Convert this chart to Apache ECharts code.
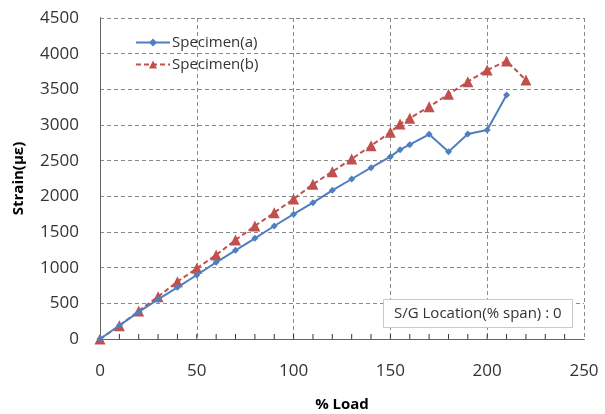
<!DOCTYPE html>
<html>
<head>
<meta charset="utf-8">
<script src="https://cdn.jsdelivr.net/npm/echarts@6/dist/echarts.min.js"></script>
<style>
  html, body { margin: 0; padding: 0; background: #fff; }
  #chart { width: 605px; height: 414px; }
</style>
</head>
<body>
<div id="chart"></div>
<script>
// % load steps and measured strain
const loadA = [0, 10, 20, 30, 40, 50, 60, 70, 80, 90, 100, 110, 120, 130, 140, 150, 155, 160, 170, 180, 190, 200, 210];
const strainA = [0, 190, 380, 555, 725, 897, 1075, 1243, 1411, 1584, 1750, 1911, 2084, 2243, 2402, 2556, 2654, 2724, 2869, 2626, 2874, 2930, 3421];
const loadB = [0, 10, 20, 30, 40, 50, 60, 70, 80, 90, 100, 110, 120, 130, 140, 150, 155, 160, 170, 180, 190, 200, 210, 220];
const strainB = [0, 185, 393, 593, 804, 991, 1178, 1388, 1584, 1771, 1963, 2170, 2346, 2524, 2710, 2897, 3014, 3094, 3257, 3430, 3608, 3771, 3897, 3631];
const xTicks = [0, 50, 100, 150, 200, 250];
const xMinorTicks = [10, 20, 30, 40, 50, 60, 70, 80, 90, 100, 110, 120, 130, 140, 150, 160, 170, 180, 190, 200, 210, 220, 230, 240];
const yTicks = [0, 500, 1000, 1500, 2000, 2500, 3000, 3500, 4000, 4500];

const zip = (xs, ys) => xs.map((x, i) => [x, ys[i]]);

const chart = echarts.init(document.getElementById('chart'));

const gridDash = { type: [4, 3], color: '#8a8a8a', width: 1 };
const xMin = xTicks[0], xMax = xTicks[xTicks.length - 1];
const yMin = yTicks[0], yMax = yTicks[yTicks.length - 1];

const option = {
  animation: false,
  textStyle: { fontFamily: 'Open Sans' },
  title: {
    text: 'S/G Location(% span) : 0',
    left: 383,
    top: 299,
    padding: [7, 11, 7, 11],
    borderColor: '#c8c8c8',
    borderWidth: 1,
    backgroundColor: '#fff',
    textStyle: { fontSize: 15, fontWeight: 'normal', color: '#333', fontFamily: 'Open Sans' }
  },
  legend: {
    left: 130,
    top: 30,
    orient: 'vertical',
    itemWidth: 34,
    itemHeight: 10,
    itemGap: 7,
    textStyle: { fontSize: 15, color: '#333', fontFamily: 'Open Sans', padding: [0, 0, 0, -3] },
    data: ['Specimen(a)', 'Specimen(b)']
  },
  grid: { left: 100, right: 21, top: 18, bottom: 75, outerBoundsMode: 'none' },
  xAxis: [
    {
      type: 'value',
      position: 'bottom',
      min: xMin,
      max: xMax,
      interval: 50,
      name: '% Load',
      nameLocation: 'middle',
      nameGap: 58,
      nameTextStyle: { fontSize: 15, fontWeight: 'bold', color: '#000', fontFamily: 'Open Sans' },
      axisLine: { show: true, lineStyle: { color: '#333', width: 1 } },
      axisTick: { show: false },
      axisLabel: { fontSize: 17, color: '#333', margin: 24 },
      splitLine: { show: true, lineStyle: gridDash }
    },
    {
      // top border
      type: 'value',
      position: 'top',
      min: xMin,
      max: xMax,
      interval: 50,
      axisLine: { show: true, lineStyle: { color: '#666', width: 1 } },
      axisTick: { show: false },
      axisLabel: { show: false },
      splitLine: { show: false }
    }
  ],
  yAxis: [
    {
      type: 'value',
      position: 'left',
      min: yMin,
      max: yMax,
      interval: 500,
      name: 'Strain(με)',
      nameLocation: 'middle',
      nameGap: 74,
      nameTextStyle: { fontSize: 15, fontWeight: 'bold', color: '#000', fontFamily: 'Open Sans' },
      axisLine: { show: true, lineStyle: { color: '#333', width: 1 } },
      axisTick: { show: false },
      axisLabel: { fontSize: 17, color: '#333', margin: 21, formatter: v => String(v) },
      splitLine: { show: true, lineStyle: gridDash }
    },
    {
      // right border
      type: 'value',
      position: 'right',
      min: yMin,
      max: yMax,
      interval: 500,
      axisLine: { show: true, lineStyle: { color: '#666', width: 1 } },
      axisTick: { show: false },
      axisLabel: { show: false },
      splitLine: { show: false }
    }
  ],
  series: [
    {
      // small inside ticks every 10 on the bottom axis
      type: 'custom',
      silent: true,
      clip: false,
      z: 5,
      data: xMinorTicks.map(v => [v, 0]),
      encode: { x: 0, y: 1 },
      renderItem: (params, api) => {
        const p = api.coord([api.value(0), 0]);
        return {
          type: 'line',
          shape: { x1: p[0], y1: p[1], x2: p[0], y2: p[1] - 5 },
          style: { stroke: '#333', lineWidth: 1 }
        };
      }
    },
    {
      name: 'Specimen(a)',
      type: 'line',
      data: zip(loadA, strainA),
      symbol: 'diamond',
      symbolSize: 7,
      itemStyle: { color: '#4f7fbf' },
      lineStyle: { color: '#4f7fbf', width: 2 },
      z: 3
    },
    {
      name: 'Specimen(b)',
      type: 'line',
      data: zip(loadB, strainB),
      symbol: 'triangle',
      symbolSize: 11,
      itemStyle: { color: '#c0504d' },
      lineStyle: { color: '#c0504d', width: 2, type: [5, 3] },
      z: 2
    }
  ]
};

chart.setOption(option);
</script>
</body>
</html>
